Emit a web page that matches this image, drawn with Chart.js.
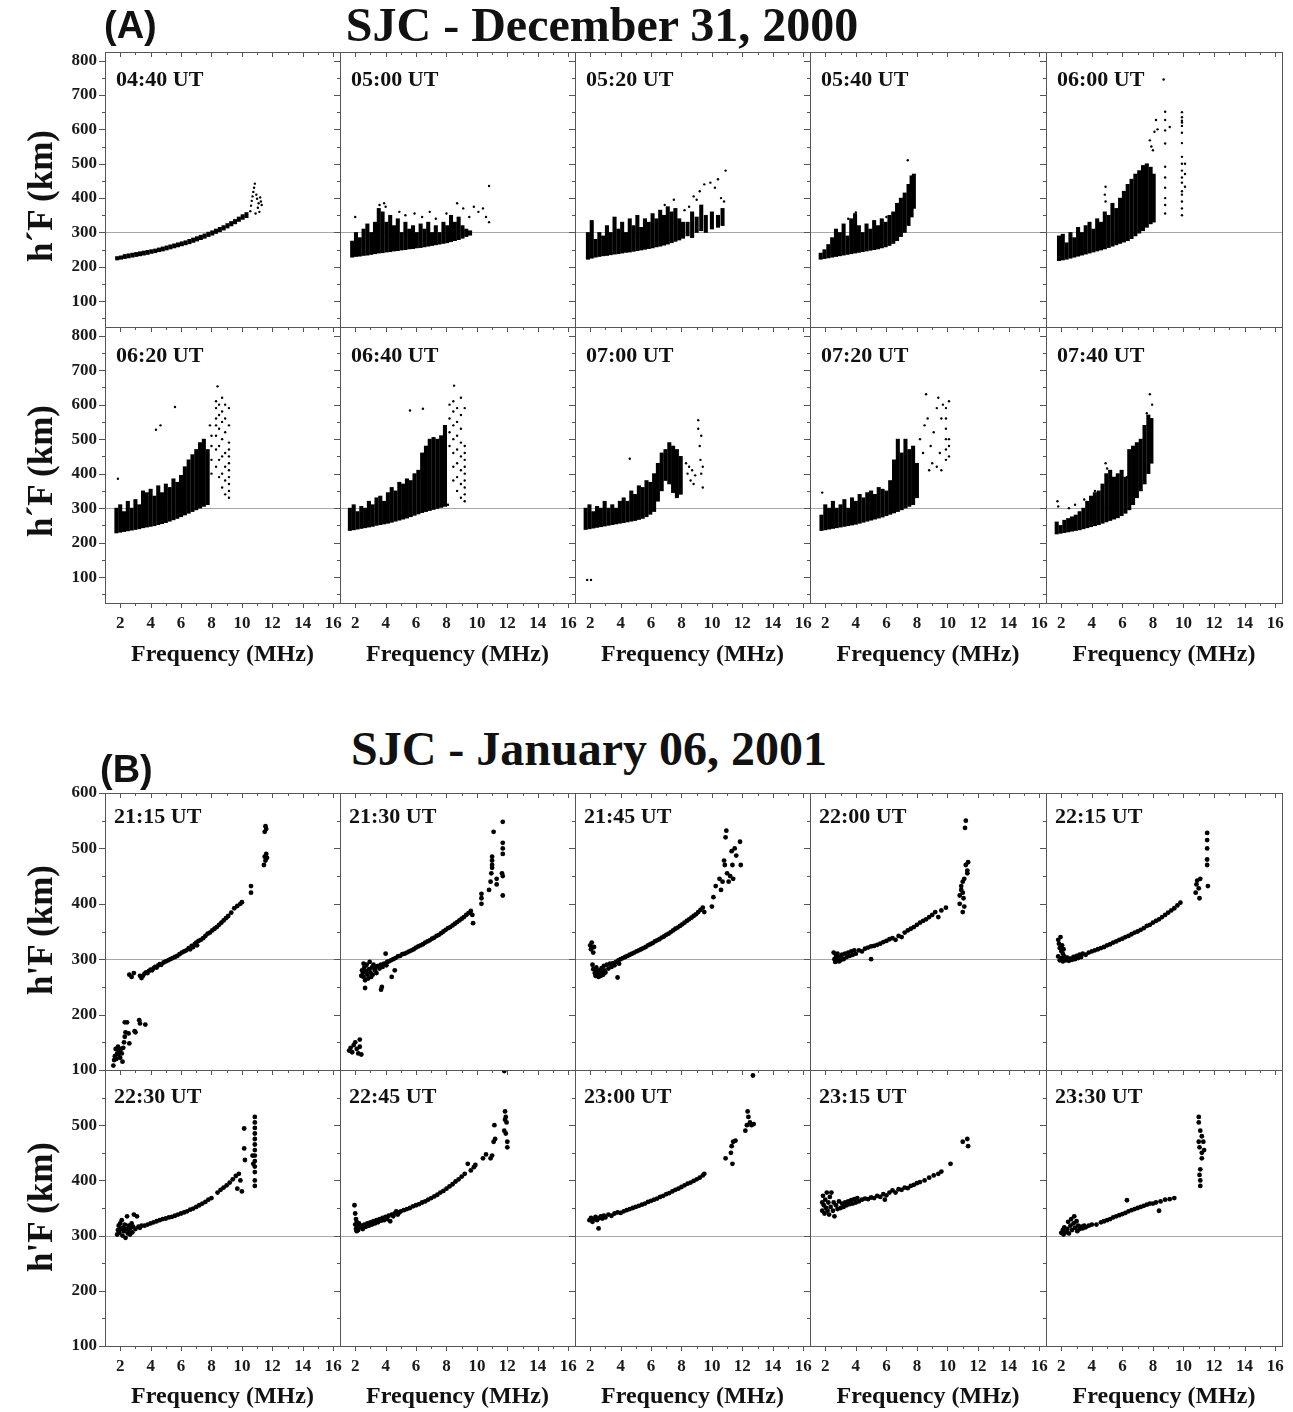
<!DOCTYPE html>
<html>
<head>
<meta charset="utf-8">
<script src="https://cdn.jsdelivr.net/npm/chart.js@4.4.1/dist/chart.umd.min.js"></script>
<style>
  body { margin: 0; background: #fff; }
  #stage { position: relative; width: 1293px; height: 1412px; overflow: hidden; }
  #stage canvas { position: absolute; }
  .t { position: absolute; white-space: nowrap; font-family: "Liberation Serif", serif; font-weight: bold; color: #111; line-height: 1; }
</style>
</head>
<body>
<div id="stage"></div>
<script>
// ---- axes / labels ----
const xTicks = [2, 4, 6, 8, 10, 12, 14, 16];
const yTicksA = [100, 200, 300, 400, 500, 600, 700, 800];
const yTicksBTop = [100, 200, 300, 400, 500, 600];
const yTicksBBottom = [100, 200, 300, 400, 500];
const refLine = 300;

const timesA = ['04:40 UT', '05:00 UT', '05:20 UT', '05:40 UT', '06:00 UT',
                '06:20 UT', '06:40 UT', '07:00 UT', '07:20 UT', '07:40 UT'];
const timesB = ['21:15 UT', '21:30 UT', '21:45 UT', '22:00 UT', '22:15 UT',
                '22:30 UT', '22:45 UT', '23:00 UT', '23:15 UT', '23:30 UT'];

// ---- (A) Dec 31 2000: dense traces as [freq, hLow, hHigh], sparse echoes as [freq, h] ----
const bandA0440 = [[1.8,220,230],[2.05,222,232],[2.3,224,236],[2.55,226,238],[2.8,228,240],[3.05,230,242],[3.3,232,244],
  [3.55,234,246],[3.8,236,248],[4.05,239,250],[4.3,241,252],[4.55,244,255],[4.8,246,258],[5.05,249,261],[5.3,252,264],
  [5.55,255,267],[5.8,258,270],[6.05,261,273],[6.3,264,276],[6.55,267,280],[6.8,271,284],[7.05,275,288],[7.3,279,292],
  [7.55,283,296],[7.8,288,301],[8.05,292,305],[8.3,297,310],[8.55,302,315],[8.8,307,320],[9.05,313,326],[9.3,319,332],
  [9.55,325,338],[9.8,332,345],[10.05,338,352],[10.3,343,358]];
const ptsA0440 = [[10.55,362],[10.6,378],[10.65,392],[10.7,405],[10.75,418],[10.85,442],[10.8,430],[10.9,355],[11.0,398],
  [11.05,372],[11.1,385],[11.15,360],[11.2,402],[11.25,390],[10.95,410],[11.3,380]];

const bandA0500 = [[1.8,228,275],[2.05,230,300],[2.3,231,285],[2.55,233,310],[2.8,234,325],[3.05,236,300],[3.3,238,330],
  [3.55,240,370],[3.8,241,360],[4.05,243,330],[4.3,244,350],[4.55,246,320],[4.8,247,340],[5.05,249,300],[5.3,250,330],
  [5.55,252,310],[5.8,253,320],[6.05,255,300],[6.3,256,325],[6.55,258,310],[6.8,260,330],[7.05,262,300],[7.3,264,320],
  [7.55,266,300],[7.8,268,330],[8.05,270,320],[8.3,273,350],[8.55,276,330],[8.8,279,345],[9.05,283,320],[9.3,288,310],
  [9.55,292,305]];
const ptsA0500 = [[2.0,345],[3.6,380],[3.9,385],[4.0,375],[4.9,360],[5.3,350],[5.9,355],[6.4,345],[6.9,360],[7.3,340],
  [8.0,355],[8.7,385],[9.1,370],[9.8,375],[10.1,360],[10.4,370],[10.6,345],[10.8,330],[10.8,435],[9.5,345]];

const bandA0520 = [[1.85,222,300],[2.1,225,335],[2.35,228,280],[2.6,230,300],[2.85,232,290],[3.1,233,320],[3.35,235,300],
  [3.6,237,345],[3.85,238,310],[4.1,240,330],[4.35,242,300],[4.6,243,340],[4.85,245,320],[5.1,247,350],[5.35,249,315],
  [5.6,251,340],[5.85,253,330],[6.1,255,355],[6.35,258,340],[6.6,260,365],[6.85,263,350],[7.1,266,375],[7.35,270,360],
  [7.6,274,370],[7.85,278,340],[8.1,283,330],[8.4,290,330],[8.7,285,360],[9.0,300,345],[9.3,305,380],[9.6,300,350],
  [10.0,310,360],[10.4,315,350],[10.7,320,370]];
const ptsA0520 = [[8.5,375],[8.8,405],[9.2,420],[9.5,440],[9.9,445],[10.2,430],[10.6,400],[10.9,480],[10.8,390],
  [9.0,395],[7.5,395],[6.9,380],[8.2,365],[10.4,455]];

const bandA0540 = [[1.7,222,240],[1.95,224,250],[2.2,226,265],[2.45,228,285],[2.7,230,310],[2.95,232,300],[3.2,234,325],
  [3.45,236,290],[3.7,238,340],[3.95,240,355],[4.2,242,320],[4.45,244,300],[4.7,246,325],[4.95,248,310],[5.2,250,335],
  [5.45,252,320],[5.7,255,340],[5.95,258,330],[6.2,262,350],[6.45,268,360],[6.7,276,385],[6.95,288,400],[7.2,300,415],
  [7.45,320,440],[7.65,345,465],[7.8,370,470]];
const ptsA0540 = [[7.4,510],[4.0,358],[3.5,340],[6.0,345]];

const bandA0600 = [[1.85,218,290],[2.1,220,295],[2.35,222,270],[2.6,225,300],[2.85,228,285],[3.1,231,315],[3.35,234,300],
  [3.6,237,320],[3.85,240,330],[4.1,243,310],[4.35,246,340],[4.6,249,330],[4.85,252,360],[5.1,256,350],[5.35,260,385],
  [5.6,264,370],[5.85,268,400],[6.1,272,420],[6.35,276,440],[6.6,282,455],[6.85,290,470],[7.1,298,480],[7.35,305,495],
  [7.6,315,500],[7.85,325,490],[8.05,330,470]];
const ptsA0600 = [[4.9,433],[4.85,410],[4.9,390],[7.8,568],[7.9,550],[8.0,539],[8.1,593],[8.2,627],[8.3,600],
  [8.7,745],[8.8,651],[8.8,627],[8.8,597],[8.8,559],[8.8,491],[8.8,460],[8.8,430],[8.8,400],[8.8,380],[8.8,355],
  [9.1,607],[9.9,650],[9.9,635],[9.9,625],[9.9,620],[9.9,610],[9.9,590],[9.9,560],[9.9,520],[9.9,500],[9.9,480],
  [9.9,460],[9.9,445],[9.9,420],[9.9,410],[9.9,390],[9.9,370],[9.9,350],[10.1,500],[10.1,470],[10.1,433]];

const bandA0620 = [[1.75,228,300],[2.0,230,310],[2.25,232,290],[2.5,234,320],[2.75,236,300],[3.0,238,325],[3.25,240,310],
  [3.5,243,350],[3.75,245,345],[4.0,247,355],[4.25,249,335],[4.5,252,365],[4.75,255,345],[5.0,258,370],[5.25,262,360],
  [5.5,266,385],[5.75,270,375],[6.0,275,395],[6.25,280,420],[6.5,285,440],[6.75,290,455],[7.0,295,470],[7.25,300,490],
  [7.5,305,500],[7.75,310,470]];
const ptsA0620 = [[1.85,385],[4.35,527],[4.65,540],[5.6,593],[8.4,653],[7.9,540],
  [8.0,400],[8.0,440],[8.0,480],[8.0,510],[8.3,420],[8.3,470],[8.3,510],[8.3,540],[8.3,560],[8.3,590],[8.3,610],
  [8.5,390],[8.5,440],[8.5,480],[8.5,530],[8.5,570],[8.5,600],[8.7,360],[8.7,400],[8.7,450],[8.7,500],[8.7,550],
  [8.7,580],[8.7,620],[8.9,340],[8.9,380],[8.9,420],[8.9,460],[8.9,520],[8.9,560],[8.9,600],[9.15,330],[9.15,350],
  [9.15,370],[9.15,390],[9.15,410],[9.15,430],[9.15,450],[9.15,470],[9.15,490],[9.15,540],[9.15,590]];

const bandA0640 = [[1.65,235,300],[1.9,237,310],[2.15,239,290],[2.4,241,305],[2.65,243,300],[2.9,245,320],[3.15,247,310],
  [3.4,250,330],[3.65,252,335],[3.9,254,320],[4.15,256,345],[4.4,259,360],[4.65,262,350],[4.9,265,375],[5.15,268,370],
  [5.4,271,385],[5.65,275,380],[5.9,279,400],[6.15,283,410],[6.4,287,460],[6.65,290,480],[6.9,293,500],[7.15,296,505],
  [7.4,299,500],[7.65,302,510],[7.9,305,540]];
const ptsA0640 = [[5.6,583],[6.45,588],[8.5,655],[8.1,310],[8.2,480],[8.2,520],[8.2,560],[8.2,600],
  [8.45,380],[8.45,420],[8.45,460],[8.45,500],[8.45,540],[8.45,580],[8.45,610],[8.7,350],[8.7,390],[8.7,430],
  [8.7,470],[8.7,510],[8.7,550],[8.7,590],[8.95,330],[8.95,370],[8.95,410],[8.95,450],[8.95,490],[8.95,530],
  [8.95,570],[8.95,620],[9.2,320],[9.2,340],[9.2,360],[9.2,380],[9.2,400],[9.2,420],[9.2,440],[9.2,460],[9.2,480],[9.2,590]];

const bandA0700 = [[1.7,238,300],[1.95,240,310],[2.2,242,290],[2.45,244,305],[2.7,246,300],[2.95,248,320],[3.2,250,300],
  [3.45,252,310],[3.7,254,300],[3.95,256,320],[4.2,258,330],[4.45,260,320],[4.7,262,350],[4.95,264,340],[5.2,267,365],
  [5.45,270,360],[5.7,275,380],[5.95,282,375],[6.2,290,400],[6.45,320,430],[6.7,350,460],[6.95,380,470],[7.2,370,490],
  [7.45,345,480],[7.7,330,470],[7.95,340,450]];
const ptsA0700 = [[1.8,92],[2.05,92],[4.6,443],[8.3,430],[8.4,400],[8.5,420],[8.6,380],[8.7,410],[8.8,370],[8.9,395],
  [9.1,555],[9.1,530],[9.2,480],[9.25,440],[9.3,400],[9.3,510],[9.4,360],[9.4,420]];

const bandA0720 = [[1.75,235,280],[2.0,237,310],[2.25,239,300],[2.5,241,320],[2.75,243,300],[3.0,245,310],[3.25,247,325],
  [3.5,249,300],[3.75,251,330],[4.0,253,320],[4.25,256,340],[4.5,259,330],[4.75,262,345],[5.0,265,350],[5.25,268,340],
  [5.5,271,360],[5.75,274,355],[6.0,278,350],[6.25,282,380],[6.5,286,440],[6.75,290,500],[7.0,295,460],[7.25,300,500],
  [7.5,305,470],[7.75,310,480],[8.0,330,430]];
const ptsA0720 = [[1.8,345],[8.2,500],[8.4,460],[8.5,540],[8.6,630],[8.7,560],[8.9,480],[9.0,430],[9.1,520],[9.3,590],
  [9.4,620],[9.5,460],[9.6,560],[9.7,600],[9.9,440],[9.9,470],[9.9,500],[9.9,530],[9.9,560],[9.9,590],[10.1,610],
  [10.1,450],[10.1,480],[10.1,500],[9.3,420],[9.6,410],[8.8,410]];

const bandA0740 = [[1.7,225,260],[1.95,227,250],[2.2,229,265],[2.45,231,270],[2.7,233,275],[2.95,235,280],[3.2,237,290],
  [3.45,240,300],[3.7,243,320],[3.95,246,335],[4.2,249,345],[4.45,252,350],[4.7,256,370],[4.95,260,400],[5.2,264,410],
  [5.45,268,390],[5.7,272,400],[5.95,278,410],[6.2,285,390],[6.45,295,470],[6.7,310,480],[6.95,330,490],[7.2,350,500],
  [7.45,370,540],[7.7,400,570],[7.9,430,560]];
const ptsA0740 = [[1.75,320],[1.8,305],[2.5,300],[2.9,310],[3.5,325],[4.2,350],[4.9,430],[5.0,415],[7.8,630],[7.95,600],
  [7.6,575],[7.7,520],[6.3,390]];

// ---- (B) Jan 06 2001: echoes as [freq, h] ----
const ptsB2115 = [[3.5,270],[3.6,274],[3.7,276],[3.8,275],[3.9,279],[4.0,281],[4.1,280],[4.2,284],[4.3,286],[4.4,285],
  [4.5,289],[4.6,291],[4.7,290],[4.85,294],[5.0,296],[5.15,298],[5.3,300],[5.45,302],[5.6,304],[5.75,306],[5.9,309],
  [6.05,312],[6.2,314],[6.35,316],[6.5,320],[6.6,318],[6.7,324],[6.8,322],[6.9,327],[7.0,330],[7.05,325],[7.15,333],
  [7.3,335],[7.45,338],[7.6,342],[7.75,346],[7.9,348],[8.05,352],[8.2,355],[8.35,358],[8.5,362],[8.65,366],[8.8,370],
  [8.95,374],[9.1,378],[9.3,384],[9.5,392],[9.7,396],[9.9,400],[10.0,403],
  [2.6,272],[2.75,268],[2.9,275],[3.3,270],[3.4,266],
  [10.6,420],[10.6,432],[11.5,530],[11.55,540],[11.6,535],[11.5,485],[11.55,478],[11.45,470],[11.6,490],[11.65,483],
  [1.55,108],[1.6,118],[1.65,125],[1.7,138],[1.75,120],[1.8,130],[1.85,142],[1.9,128],[1.95,135],[2.0,122],[2.05,138],
  [2.1,130],[2.15,115],[2.2,140],[2.25,150],[2.3,160],[2.35,168],[2.3,186],[2.45,186],[2.55,166],[2.6,148],[3.25,190],
  [3.3,184],[2.95,170],[3.65,182],[3.0,168]];

const ptsB2130 = [[1.6,135],[1.7,140],[1.8,132],[1.9,145],[2.0,150],[2.1,138],[2.2,130],[2.3,142],[2.4,128],[2.3,155],
  [2.4,270],[2.45,280],[2.5,275],[2.55,268],[2.6,285],[2.65,262],[2.7,278],[2.75,290],[2.8,272],[2.85,265],[2.9,282],
  [2.95,295],[3.0,276],[3.05,268],[3.1,285],[3.15,272],[3.2,290],[3.3,280],[3.35,286],[3.4,275],[3.5,288],[3.6,283],
  [3.7,290],[3.8,286],[3.9,292],[4.0,310],[4.05,289],[4.1,295],[3.75,250],[3.7,245],[2.65,248],[2.55,292],[4.6,280],
  [4.4,268],
  [4.2,296],[4.35,298],[4.5,300],[4.65,302],[4.8,305],[4.95,306],[5.1,309],[5.25,310],[5.4,312],[5.55,314],[5.7,316],
  [5.85,318],[6.0,321],[6.15,323],[6.3,325],[6.45,327],[6.6,330],[6.75,332],[6.9,334],[7.05,337],[7.2,339],[7.35,342],
  [7.5,344],[7.65,347],[7.8,350],[7.95,353],[8.1,356],[8.25,358],[8.4,361],[8.55,364],[8.7,367],[8.85,370],[9.0,373],
  [9.15,376],[9.3,380],[9.45,383],[9.6,387],[9.7,380],[9.75,365],
  [10.3,400],[10.3,410],[10.3,418],[10.8,425],[10.9,440],[10.95,455],[11.0,465],[11.0,478],[11.0,485],[11.0,470],
  [11.1,530],[11.3,445],[11.3,435],[11.7,548],[11.7,510],[11.7,500],[11.7,490],[11.65,455],[11.7,450],[11.7,415]];

const ptsB2145 = [[2.0,325],[2.05,318],[2.1,330],[2.2,312],[2.25,322],[2.15,290],[2.2,282],[2.3,275],[2.35,270],[2.4,285],
  [2.45,278],[2.5,272],[2.55,268],[2.6,280],[2.65,274],[2.7,270],[2.75,284],[2.8,276],[2.85,272],[2.9,288],[2.95,280],
  [3.0,276],[3.1,290],[3.2,283],[3.3,292],[3.4,286],[3.5,293],[3.6,289],[3.7,295],[3.8,267],[3.85,298],[3.9,292],
  [4.0,300],[4.15,302],[4.3,304],[4.45,306],[4.6,308],[4.75,310],[4.9,312],[5.05,314],[5.2,316],[5.35,318],[5.5,320],
  [5.65,322],[5.8,325],[5.95,327],[6.1,329],[6.25,332],[6.4,334],[6.55,336],[6.7,339],[6.85,341],[7.0,344],[7.15,346],
  [7.3,349],[7.45,352],[7.6,355],[7.75,357],[7.9,360],[8.05,363],[8.2,366],[8.35,369],[8.5,372],[8.65,375],[8.8,378],
  [8.95,381],[9.1,385],[9.25,389],[9.4,393],[9.5,385],
  [10.0,395],[10.1,412],[10.25,432],[10.5,445],[10.6,425],[10.7,440],[10.8,478],[10.85,470],[10.9,520],[10.95,532],
  [11.0,455],[11.1,440],[11.2,450],[11.3,495],[11.35,470],[11.4,445],[11.6,487],[11.85,512],[11.9,470],[11.5,500]];

const ptsB2200 = [[2.55,312],[2.6,300],[2.65,295],[2.7,306],[2.75,298],[2.8,310],[2.85,302],[2.9,296],[2.95,304],[3.0,298],
  [3.1,308],[3.2,300],[3.3,310],[3.4,304],[3.5,312],[3.6,306],[3.7,314],[3.8,308],[3.9,316],[4.0,310],[4.2,316],[4.4,314],
  [4.6,319],[4.8,321],[5.0,300],[5.0,323],[5.2,324],[5.4,326],[5.6,328],[5.8,331],[6.0,333],[6.2,336],[6.4,338],[6.6,335],
  [6.8,342],[7.0,340],[7.2,348],[7.4,352],[7.6,355],[7.8,358],[8.0,362],[8.2,366],[8.4,369],[8.6,372],[8.8,376],[9.0,380],
  [9.2,385],[9.4,376],[9.6,388],[9.9,393],
  [10.8,400],[10.8,415],[10.9,425],[10.9,432],[11.0,440],[11.0,420],[11.05,410],[11.1,445],[11.1,395],[11.0,385],
  [11.2,470],[11.3,460],[11.35,475],[11.3,455],[11.15,537],[11.2,550]];

const ptsB2215 = [[1.8,335],[1.85,328],[1.9,320],[1.95,340],[2.0,315],[2.05,325],[2.1,310],[2.15,318],[2.2,305],[1.8,305],
  [1.9,298],[2.0,302],[2.1,296],[2.2,300],[2.3,298],[2.4,303],[2.5,297],[2.6,301],[2.7,299],[2.8,304],[2.9,300],[3.0,306],
  [3.1,302],[3.2,308],[3.3,304],[3.4,310],[3.6,308],[3.8,312],
  [4.0,314],[4.2,316],[4.4,318],[4.6,320],[4.8,322],[5.0,325],[5.2,327],[5.4,330],[5.6,332],[5.8,335],[6.0,337],[6.2,340],
  [6.4,342],[6.6,345],[6.8,348],[7.0,350],[7.2,353],[7.4,356],[7.6,360],[7.8,362],[8.0,366],[8.2,369],[8.4,372],[8.6,376],
  [8.8,380],[9.0,384],[9.2,388],[9.4,392],[9.6,397],[9.8,402],
  [10.8,420],[10.85,435],[10.9,442],[11.0,428],[11.05,410],[11.1,445],[11.55,528],[11.55,515],[11.55,500],[11.55,480],
  [11.55,470],[11.6,432]];

const ptsB2230 = [[1.8,302],[1.85,310],[1.9,318],[1.95,305],[2.0,322],[2.05,312],[2.1,328],[2.15,300],[2.2,315],[2.25,308],
  [2.3,320],[2.35,296],[2.4,312],[2.45,335],[2.5,304],[2.55,318],[2.6,310],[2.65,302],[2.7,314],[2.75,322],[2.8,306],
  [2.85,316],[2.9,338],[3.0,312],[3.1,335],[3.2,316],[3.3,314],[3.4,318],[3.6,318],[3.8,320],
  [4.0,322],[4.2,324],[4.4,326],[4.6,328],[4.8,330],[5.0,331],[5.2,333],[5.4,334],[5.6,336],[5.8,338],[6.0,340],[6.2,342],
  [6.4,344],[6.6,347],[6.8,349],[7.0,352],[7.2,355],[7.4,358],[7.6,361],[7.8,365],[8.0,368],[8.4,378],[8.6,383],[8.8,387],
  [9.0,391],[9.2,396],[9.4,402],[9.6,408],[9.7,385],[9.8,412],[9.9,400],
  [10.15,494],[10.15,458],[10.2,437],[10.0,380],[10.85,515],[10.85,505],[10.85,495],[10.85,485],[10.85,475],[10.85,465],
  [10.85,455],[10.85,445],[10.85,435],[10.85,425],[10.85,415],[10.85,400],[10.85,390],[10.7,445],[10.75,430]];

const ptsB2245 = [[1.95,355],[2.0,340],[2.05,330],[2.0,320],[2.05,312],[2.1,325],[2.1,308],[2.15,318],[2.2,310],[2.25,322],
  [2.3,315],[2.4,318],[2.5,312],[2.6,320],[2.7,316],[2.8,322],[2.9,318],[3.0,324],[3.1,320],[3.2,326],[3.3,322],[3.4,328],
  [3.5,324],[3.6,330],[3.7,327],[3.8,332],[3.9,328],[4.0,334],[4.1,330],[4.2,336],[4.3,326],[4.4,338],[4.5,335],[4.6,340],
  [4.7,344],[4.8,338],[4.9,342],
  [5.0,344],[5.2,346],[5.4,348],[5.6,350],[5.8,353],[6.0,355],[6.2,357],[6.4,360],[6.6,362],[6.8,365],[7.0,368],[7.2,371],
  [7.4,374],[7.6,378],[7.8,381],[8.0,385],[8.2,389],[8.4,393],[8.6,398],[8.8,402],[9.0,407],[9.2,412],[9.4,430],[9.6,418],
  [9.8,424],[9.9,428],
  [10.4,440],[10.6,447],[10.9,440],[11.0,445],[11.1,470],[11.15,500],[11.2,475],[11.8,598],[11.85,525],[11.9,515],
  [11.95,505],[11.9,485],[11.8,490],[12.0,470],[12.0,460],[11.85,510]];

const ptsB2300 = [[1.95,328],[2.05,332],[2.15,325],[2.25,330],[2.35,334],[2.45,328],[2.55,313],[2.6,332],[2.7,335],[2.8,331],
  [2.9,336],[3.0,333],[3.2,338],[3.4,336],[3.6,340],[3.8,342],[4.0,341],[4.2,344],[4.4,346],[4.6,348],[4.8,350],[5.0,352],
  [5.2,354],[5.4,356],[5.6,358],[5.8,361],[6.0,363],[6.2,365],[6.4,367],[6.6,370],[6.8,372],[7.0,375],[7.2,377],[7.4,380],
  [7.6,383],[7.8,385],[8.0,388],[8.2,391],[8.4,394],[8.6,396],[8.8,399],[9.0,402],[9.2,405],[9.4,409],[9.5,412],
  [10.9,440],[11.25,450],[11.3,462],[11.35,430],[11.4,470],[11.55,472],[12.2,490],[12.3,500],[12.35,525],[12.4,515],
  [12.5,505],[12.6,500],[12.75,502],[12.7,590]];

const ptsB2315 = [[1.8,360],[1.8,345],[1.85,372],[1.9,355],[1.95,340],[2.0,365],[2.05,350],[2.1,378],[2.15,345],[2.2,360],
  [2.25,338],[2.3,370],[2.35,352],[2.4,378],[2.5,345],[2.55,360],[2.6,335],[2.7,355],[2.8,348],[2.9,362],[3.0,350],
  [3.1,358],[3.2,352],[3.3,360],[3.4,355],[3.5,362],[3.6,357],[3.7,364],[3.8,358],[3.9,366],[4.0,360],[4.1,368],[4.2,362],
  [4.4,365],[4.6,367],[4.8,366],[5.0,369],[5.2,368],[5.4,372],[5.6,370],[5.8,375],[5.9,365],[6.0,373],[6.2,378],[6.4,382],
  [6.6,378],[6.8,384],[7.0,383],[7.2,387],[7.4,386],[7.6,390],[7.8,392],[8.0,395],[8.2,397],[8.5,400],[8.8,405],[9.1,409],
  [9.4,412],[9.6,416],[10.2,430],
  [11.0,470],[11.3,475],[11.35,462]];

const ptsB2330 = [[2.0,305],[2.1,310],[2.15,302],[2.2,315],[2.3,306],[2.4,312],[2.45,325],[2.5,304],[2.6,318],[2.65,330],
  [2.7,310],[2.8,322],[2.85,335],[2.9,314],[3.0,326],[3.05,308],[3.1,318],[3.2,312],[3.3,316],[3.4,313],[3.5,318],[3.6,315],
  [3.8,318],[4.0,320],[4.3,320],[4.6,324],[4.8,326],[5.0,328],[5.2,330],[5.4,333],[5.6,335],[5.8,337],[6.0,339],[6.2,341],
  [6.3,364],[6.4,344],[6.6,346],[6.8,348],[7.0,350],[7.2,352],[7.4,354],[7.6,356],[7.8,358],[8.0,358],[8.2,360],[8.5,362],
  [8.4,345],[8.8,365],[9.1,366],[9.4,368],
  [11.0,515],[11.0,505],[11.1,490],[11.0,470],[11.05,460],[11.2,480],[11.3,470],[11.35,455],[11.2,440],[11.1,420],
  [11.05,410],[11.1,400],[11.1,390],[11.2,450]];

const bandsA = [bandA0440, bandA0500, bandA0520, bandA0540, bandA0600, bandA0620, bandA0640, bandA0700, bandA0720, bandA0740];
const pointsA = [ptsA0440, ptsA0500, ptsA0520, ptsA0540, ptsA0600, ptsA0620, ptsA0640, ptsA0700, ptsA0720, ptsA0740];
const pointsB = [ptsB2115, ptsB2130, ptsB2145, ptsB2200, ptsB2215, ptsB2230, ptsB2245, ptsB2300, ptsB2315, ptsB2330];

// ---- layout ----
const colEdges = [105, 340, 575, 810, 1046, 1282];
const rowEdgesA = [52, 327, 603];
const rowEdgesB = [793, 1070, 1346];
const xMin = 1.0, xMax = 16.45;
const tickFont = { family: 'Liberation Serif', weight: 'bold', size: 17 };
const stage = document.getElementById('stage');

// border, 300 km reference line and small tick marks
const framePlugin = {
  id: 'frame',
  beforeDatasetsDraw(chart) {
    const { ctx, chartArea: a, scales: { y } } = chart;
    const yr = Math.round(y.getPixelForValue(refLine)) + 0.5;
    ctx.save();
    ctx.strokeStyle = '#a8a8a8';
    ctx.lineWidth = 1;
    ctx.beginPath(); ctx.moveTo(a.left, yr); ctx.lineTo(a.right, yr); ctx.stroke();
    ctx.restore();
  },
  afterDatasetsDraw(chart, args, opts) {
    const { ctx, chartArea: a, scales: { x, y } } = chart;
    ctx.save();
    ctx.strokeStyle = '#555';
    ctx.lineWidth = 1;
    ctx.strokeRect(Math.round(a.left) + 0.5, Math.round(a.top) + 0.5, Math.round(a.right - a.left), Math.round(a.bottom - a.top));
    ctx.beginPath();
    for (let f = 2; f <= 16; f++) {
      const px = Math.round(x.getPixelForValue(f)) + 0.5;
      const len = f % 2 === 0 ? 5 : 3;
      ctx.moveTo(px, a.top); ctx.lineTo(px, a.top + len);
      if (opts.bottomTicks) { ctx.moveTo(px, a.bottom); ctx.lineTo(px, a.bottom + len); }
    }
    for (let h = Math.ceil(y.min / 50) * 50; h <= y.max; h += 50) {
      const py = Math.round(y.getPixelForValue(h)) + 0.5;
      const len = h % 100 === 0 ? 6 : 3;
      ctx.moveTo(a.left - len, py); ctx.lineTo(a.left, py);
    }
    ctx.stroke();
    ctx.restore();
  }
};

function noScalePadding(s) {
  s.paddingTop = 0; s.paddingBottom = 0; s.paddingLeft = 0; s.paddingRight = 0;
}

function addPanel(p) {
  const pad = 7;
  const axisW = p.showY ? 62 : 0;
  const axisH = p.showX ? 34 : 0;
  const w = p.x1 - p.x0 + 2 * pad + axisW;
  const h = p.y1 - p.y0 + 2 * pad + axisH;
  const cv = document.createElement('canvas');
  cv.width = w; cv.height = h;
  cv.style.left = (p.x0 - pad - axisW) + 'px';
  cv.style.top = (p.y0 - pad) + 'px';
  cv.style.width = w + 'px'; cv.style.height = h + 'px';
  stage.appendChild(cv);

  const datasets = [];
  if (p.band) {
    datasets.push({
      type: 'bar',
      data: p.band.map(([f, lo, hi]) => ({ x: f, y: [lo, hi] })),
      backgroundColor: '#000', borderWidth: 0, barThickness: 3.4
    });
  }
  datasets.push({
    type: 'scatter',
    data: p.pts.map(([f, v]) => ({ x: f, y: v })),
    backgroundColor: '#000', borderWidth: 0, pointRadius: p.radius, pointHoverRadius: p.radius
  });

  new Chart(cv, {
    type: 'scatter',
    data: { datasets },
    options: {
      responsive: false, animation: false, events: [], devicePixelRatio: 1,
      layout: { padding: pad },
      plugins: { legend: { display: false }, tooltip: { enabled: false }, frame: { bottomTicks: p.showX } },
      scales: {
        x: {
          type: 'linear', min: xMin, max: xMax, offset: false, display: p.showX,
          grid: { display: false, drawTicks: false, offset: false }, border: { display: false },
          afterBuildTicks: s => { s.ticks = xTicks.map(v => ({ value: v })); },
          afterFit: s => { s.height = axisH; noScalePadding(s); },
          ticks: { autoSkip: false, maxRotation: 0, padding: 10, color: '#1a1a1a', font: tickFont }
        },
        y: {
          type: 'linear', min: p.yMin, max: p.yMax, display: p.showY,
          grid: { display: false, drawTicks: false }, border: { display: false },
          afterBuildTicks: s => { s.ticks = p.yTicks.map(v => ({ value: v })); },
          afterFit: s => { s.width = axisW; noScalePadding(s); },
          ticks: { autoSkip: false, padding: 8, color: '#1a1a1a', font: tickFont }
        }
      }
    },
    plugins: [framePlugin]
  });
}

function addText(txt, x, y, size, align, extra) {
  const d = document.createElement('div');
  d.className = 't';
  d.textContent = txt;
  d.style.left = x + 'px';
  d.style.top = y + 'px';
  d.style.fontSize = size + 'px';
  const tx = align === 'center' ? '-50%' : '0';
  d.style.transform = `translate(${tx}, -50%)` + (extra || '');
  stage.appendChild(d);
  return d;
}

// block A
for (let i = 0; i < 10; i++) {
  const c = i % 5, r = Math.floor(i / 5);
  addPanel({
    x0: colEdges[c], x1: colEdges[c + 1], y0: rowEdgesA[r], y1: rowEdgesA[r + 1],
    showY: c === 0, showX: r === 1, yMin: 25, yMax: 825, yTicks: yTicksA,
    band: bandsA[i], pts: pointsA[i], radius: 1.2
  });
  addText(timesA[i], colEdges[c] + 11, r === 0 ? 79 : 355, 22, 'left');
}
// block B
for (let i = 0; i < 10; i++) {
  const c = i % 5, r = Math.floor(i / 5);
  addPanel({
    x0: colEdges[c], x1: colEdges[c + 1], y0: rowEdgesB[r], y1: rowEdgesB[r + 1],
    showY: c === 0, showX: r === 1, yMin: 100, yMax: 600, yTicks: r === 0 ? yTicksBTop : yTicksBBottom,
    band: null, pts: pointsB[i], radius: 2.4
  });
  addText(timesB[i], colEdges[c] + 9, r === 0 ? 816 : 1096, 22, 'left');
}

// titles and axis titles
addText('SJC - December 31, 2000', 602, 25, 48, 'center');
addText('SJC - January 06, 2001', 589, 749, 48, 'center');
const pa = addText('(A)', 104, 25, 38, 'left');
const pb = addText('(B)', 100, 769, 38, 'left');
pa.style.fontFamily = pb.style.fontFamily = '"Liberation Sans", sans-serif';
for (let c = 0; c < 5; c++) {
  const cx = (colEdges[c] + colEdges[c + 1]) / 2;
  addText('Frequency (MHz)', cx, 653, 24, 'center');
  addText('Frequency (MHz)', cx, 1395, 24, 'center');
}
[196, 471].forEach(yc => addText('h\u00B4F (km)', 40, yc, 35, 'center', ' rotate(-90deg)'));
[930, 1207].forEach(yc => addText("h'F (km)", 40, yc, 35, 'center', ' rotate(-90deg)'));
</script>
</body>
</html>
